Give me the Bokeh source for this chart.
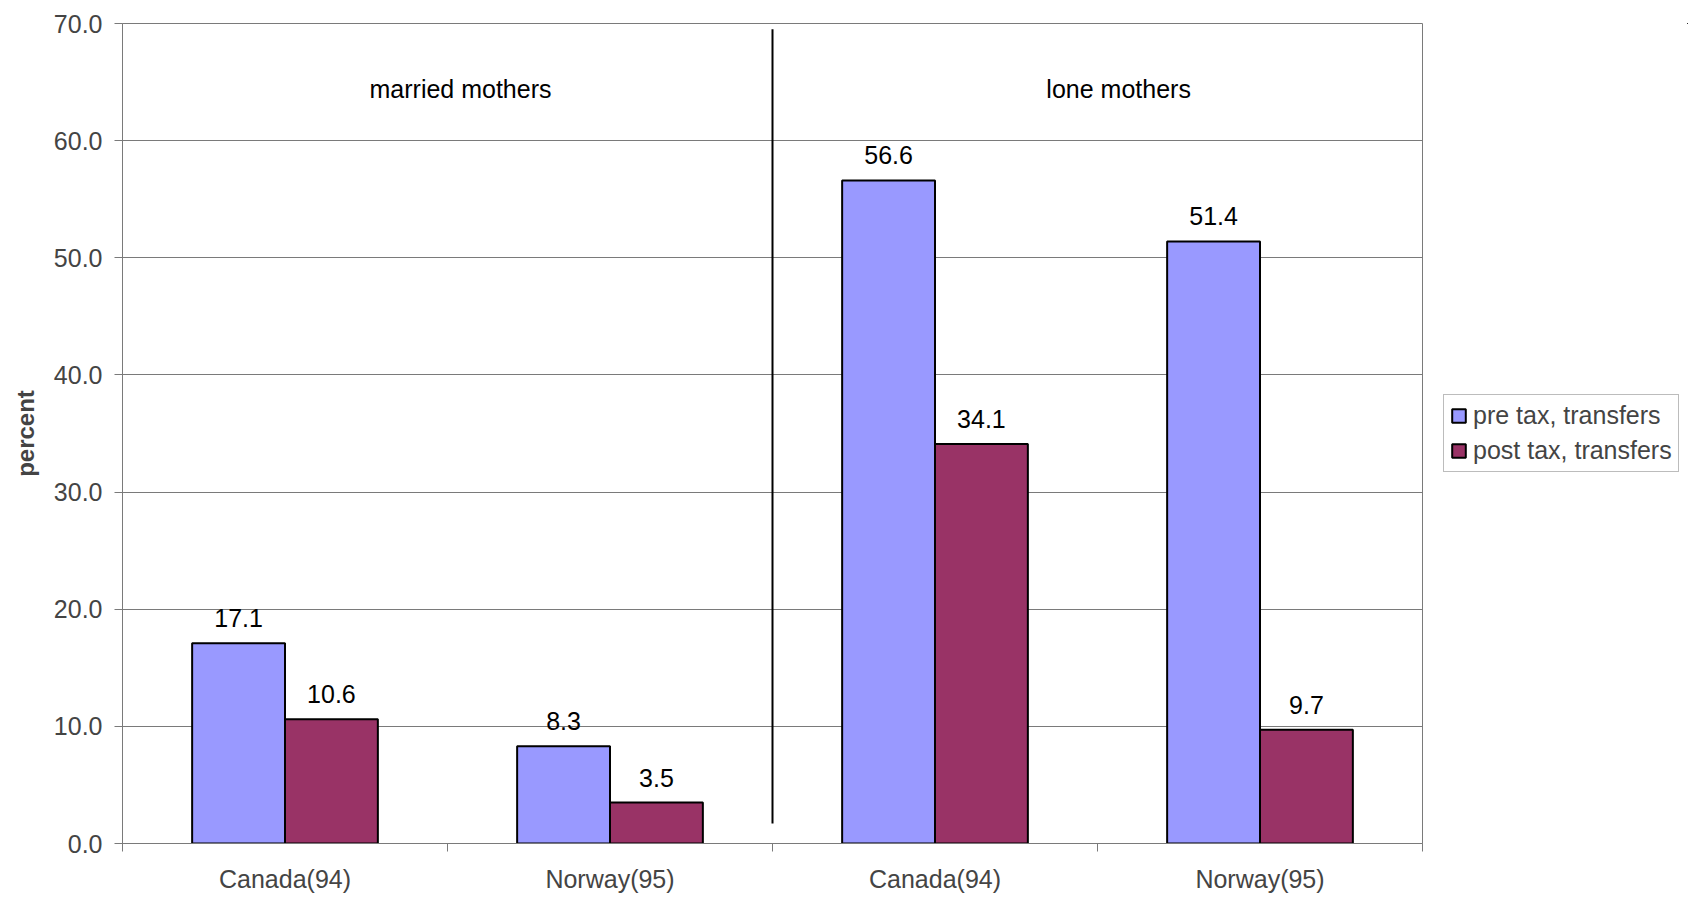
from bokeh.plotting import figure
from bokeh.layouts import row
from bokeh.models import (ColumnDataSource, Legend, LegendItem, FixedTicker,
                          NumeralTickFormatter, Range1d, Label)
from bokeh.core.properties import value
from bokeh.embed import file_html
from bokeh.resources import INLINE

# Poverty rates of mothers, before and after taxes and transfers
countries = ["Canada(94)", "Norway(95)", "Canada(94)", "Norway(95)"]
groups = ["married mothers", "lone mothers"]
pre_tax = [17.1, 8.3, 56.6, 51.4]
post_tax = [10.6, 3.5, 34.1, 9.7]
series_names = ["pre tax, transfers", "post tax, transfers"]
y_ticks = [0, 10, 20, 30, 40, 50, 60, 70]

FONT = "Liberation Sans"
FS = "25px"
PRE_COLOR = "#9999FF"
POST_COLOR = "#993366"
GRID = "#7a7a7a"

n = len(countries)
centers = [i + 0.5 for i in range(n)]
bar_w = 2.0 / 7.0  # gap width 150% of a bar

src = ColumnDataSource(dict(
    x_pre=[c - bar_w / 2 for c in centers],
    x_post=[c + bar_w / 2 for c in centers],
    pre=pre_tax,
    post=post_tax,
    pre_lbl=[f"{v:.1f}" for v in pre_tax],
    post_lbl=[f"{v:.1f}" for v in post_tax],
))

p = figure(width=1423, height=897, output_backend="svg", toolbar_location=None,
           x_range=Range1d(0, n), y_range=Range1d(0, 70),
           min_border_left=122, min_border_right=1,
           min_border_top=23, min_border_bottom=54)
p.background_fill_color = "white"
p.border_fill_color = "white"
p.outline_line_color = GRID
p.outline_line_width = 1

# bars
r_pre = p.vbar(x="x_pre", top="pre", width=bar_w, source=src,
               fill_color=PRE_COLOR, line_color="black", line_width=2)
r_post = p.vbar(x="x_post", top="post", width=bar_w, source=src,
                fill_color=POST_COLOR, line_color="black", line_width=2)

# value labels above bars
for xcol, ycol, lcol in (("x_pre", "pre", "pre_lbl"), ("x_post", "post", "post_lbl")):
    p.text(x=xcol, y=ycol, text=lcol, source=src, x_offset=0, y_offset=-16,
           text_align="center", text_baseline="bottom",
           text_font=value(FONT), text_font_size=FS, text_color="black")

# divider between the two family types
p.segment(x0=[n / 2], y0=[1.7], x1=[n / 2], y1=[69.5], line_color="black", line_width=2)

# group headings
for gx, g in zip([1.04, 3.065], groups):
    p.add_layout(Label(x=gx, y=64.4, text=g, text_align="center",
                       text_baseline="middle", text_font=FONT,
                       text_font_size=FS, text_color="black"))

# grid
p.xgrid.visible = False
p.ygrid.ticker = FixedTicker(ticks=y_ticks)
p.ygrid.grid_line_color = GRID
p.ygrid.grid_line_width = 1

# y axis
p.yaxis.ticker = FixedTicker(ticks=y_ticks)
p.yaxis.formatter = NumeralTickFormatter(format="0.0")
p.yaxis.axis_label = "percent"
p.yaxis.axis_label_text_font = FONT
p.yaxis.axis_label_text_font_style = "bold"
p.yaxis.axis_label_text_font_size = "24px"
p.yaxis.axis_label_standoff = 12
p.yaxis.major_label_text_font = FONT
p.yaxis.major_label_text_font_size = FS
p.yaxis.major_label_standoff = 12
p.yaxis.major_tick_out = 8
p.yaxis.major_tick_in = 0
p.yaxis.minor_tick_line_color = None
p.yaxis.axis_line_color = GRID
p.yaxis.major_tick_line_color = GRID

# x axis: labels centred on categories, tick marks on category boundaries
p.xaxis.ticker = FixedTicker(ticks=centers, minor_ticks=list(range(n + 1)))
p.xaxis.major_label_overrides = {c: lab for c, lab in zip(centers, countries)}
p.xaxis.major_tick_line_color = None
p.xaxis.minor_tick_out = 8
p.xaxis.minor_tick_in = 0
p.xaxis.minor_tick_line_color = GRID
p.xaxis.axis_line_color = GRID
p.xaxis.major_label_text_font = FONT
p.xaxis.major_label_text_font_size = FS
p.xaxis.major_label_standoff = 13

# legend panel to the right of the chart; its key renderers share the bar
# data but lie far outside this panel's ranges, so only the legend keys show
lp = figure(width=265, height=897, output_backend="svg", toolbar_location=None,
            x_range=Range1d(-20, -19), y_range=Range1d(-20, -19), min_border=0)
lp.axis.visible = False
lp.grid.visible = False
lp.outline_line_color = None
lp.background_fill_color = "white"
lp.border_fill_color = "white"
k_pre = lp.vbar(x="x_pre", top="pre", width=bar_w, source=src,
                fill_color=PRE_COLOR, line_color="black", line_width=2)
k_post = lp.vbar(x="x_post", top="post", width=bar_w, source=src,
                 fill_color=POST_COLOR, line_color="black", line_width=2)

legend = Legend(items=[LegendItem(label=series_names[0], renderers=[k_pre]),
                       LegendItem(label=series_names[1], renderers=[k_post])],
                location=(20, 371), orientation="vertical",
                label_text_font=FONT, label_text_font_size=FS,
                glyph_width=17, glyph_height=17, label_standoff=6,
                padding=6, spacing=6, margin=0,
                border_line_color=GRID, border_line_width=1,
                background_fill_color="white")
lp.add_layout(legend)

layout = row(p, lp)
open("out.html", "w").write(file_html(layout, INLINE))
